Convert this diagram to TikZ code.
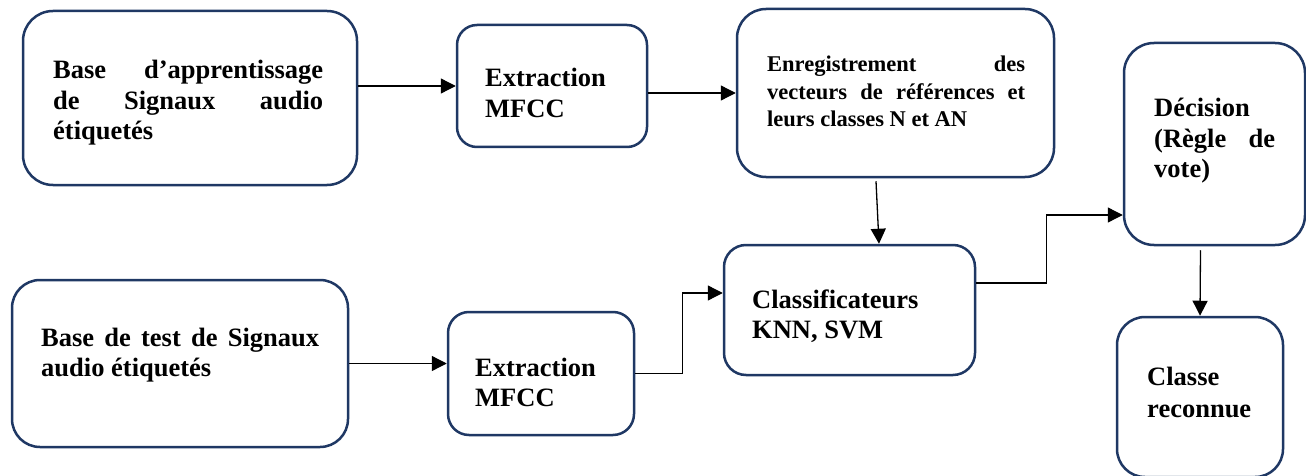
\documentclass[tikz,border=0pt]{standalone}
\usepackage{fontspec}
\setmainfont{Liberation Serif}
\usetikzlibrary{arrows.meta}
\definecolor{boxblue}{HTML}{1F3864}
\begin{document}
\begin{tikzpicture}[x=1pt,y=-1pt,
  boxnode/.style={draw=boxblue,line width=2.5pt,inner sep=0pt,fill=white},
  txt/.style={inner sep=0pt,anchor=base west,font=\bfseries},
  arr/.style={draw=black,line width=1.3pt,-{Triangle[length=15pt,width=15pt]}}]
\useasboundingbox[fill=white] (0,0) rectangle (1306,476);
% boxes
\node[boxnode,rounded corners=30pt,minimum width=334pt,minimum height=174pt] (A) at (190,98) {};
\node[boxnode,rounded corners=20pt,minimum width=190pt,minimum height=122pt] (B) at (552,86) {};
\node[boxnode,rounded corners=29pt,minimum width=317pt,minimum height=168pt] (C) at (895.5,93) {};
\node[boxnode,rounded corners=30pt,minimum width=181pt,minimum height=202pt] (D) at (1214.5,144) {};
\node[boxnode,rounded corners=28pt,minimum width=166pt,minimum height=160pt] (E) at (1200,397) {};
\node[boxnode,rounded corners=28pt,minimum width=336pt,minimum height=167pt] (F) at (180,363.5) {};
\node[boxnode,rounded corners=21pt,minimum width=186pt,minimum height=123pt] (G) at (541,373.5) {};
\node[boxnode,rounded corners=22pt,minimum width=251pt,minimum height=130pt] (H) at (849.5,310) {};
% texts
\node[txt] (tA) at (53,79) {\parbox[t]{270pt}{\fontsize{26.5}{30.5}\selectfont
  \makebox[\linewidth][s]{Base d’apprentissage}\\
  \makebox[\linewidth][s]{de Signaux audio}\\
  étiquetés}};
\node[txt] (tB) at (485,87) {\parbox[t]{150pt}{\fontsize{26.5}{31}\selectfont
  Extraction\\MFCC}};
\node[txt] (tC) at (767,72) {\parbox[t]{258pt}{\fontsize{22.5}{27.5}\selectfont
  \makebox[\linewidth][s]{Enregistrement des}\\
  \makebox[\linewidth][s]{vecteurs de références et}\\
  leurs classes N et AN}};
\node[txt] (tD) at (1154,117) {\parbox[t]{121pt}{\fontsize{26.5}{30.5}\selectfont
  Décision\\
  \makebox[\linewidth][s]{(Règle de}\\
  vote)}};
\node[txt] (tE) at (1147,385) {\parbox[t]{130pt}{\fontsize{26.5}{32}\selectfont
  Classe\\reconnue}};
\node[txt] (tF) at (41,346) {\parbox[t]{278pt}{\fontsize{26.5}{30.5}\selectfont
  \makebox[\linewidth][s]{Base de test de Signaux}\\
  audio étiquetés}};
\node[txt] (tG) at (475,376) {\parbox[t]{150pt}{\fontsize{26.5}{30.5}\selectfont
  Extraction\\MFCC}};
\node[txt] (tH) at (752,308) {\parbox[t]{210pt}{\fontsize{26.5}{30.5}\selectfont
  Classificateurs\\KNN, SVM}};
% connectors
\draw[arr] (A.east |- B.west) -- (B.west);
\draw[arr] (C.west -| B.east) -- (C.west);
\draw[arr] ([xshift=-19.5pt,yshift=-3pt]C.south) -- ([xshift=29.5pt]H.north);
\draw[arr] (F.east) -- (F.east -| G.west);
\draw[arr] (G.east) -- ++(47,0) |- ([yshift=17pt]H.west);
\draw[arr] ([yshift=27pt]H.east) -- ++(70,0) |- ([yshift=-71pt]D.west);
\draw[arr] ([xshift=-14pt,yshift=-4pt]D.south) -- (E.north);
\end{tikzpicture}
\end{document}
